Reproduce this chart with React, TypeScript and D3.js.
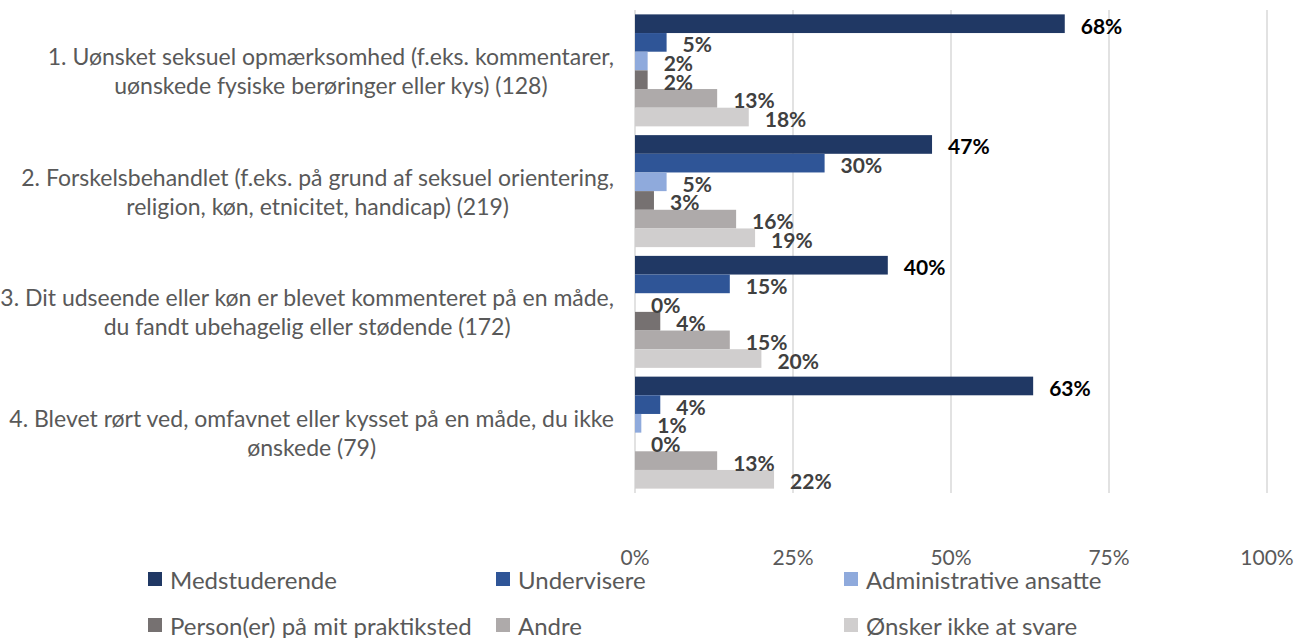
import React, { useEffect, useRef } from 'react';
import * as d3 from 'd3';

// Category labels, each already broken into the two lines shown on the chart
const categories = ['q1', 'q2', 'q3', 'q4'];
const categoryLines = [
    ['1. Uønsket seksuel opmærksomhed (f.eks. kommentarer,', 'uønskede fysiske berøringer eller kys) (128)'],
    ['2. Forskelsbehandlet (f.eks. på grund af seksuel orientering,', 'religion, køn, etnicitet, handicap) (219)'],
    ['3. Dit udseende eller køn er blevet kommenteret på en måde,', 'du fandt ubehagelig eller stødende (172)'],
    ['4. Blevet rørt ved, omfavnet eller kysset på en måde, du ikke', 'ønskede (79)'],
];

const seriesNames = [
    'Medstuderende',
    'Undervisere',
    'Administrative ansatte',
    'Person(er) på mit praktiksted',
    'Andre',
    'Ønsker ikke at svare',
];
const seriesColors = ['#203864', '#2f5597', '#8faadc', '#767171', '#aeaaaa', '#d0cece'];

// values in percent, one array per series (same order as categories)
const medstuderende = [68, 47, 40, 63];
const undervisere = [5, 30, 15, 4];
const administrative = [2, 5, 0, 1];
const praktiksted = [2, 3, 4, 0];
const andre = [13, 16, 15, 13];
const oenskerIkke = [18, 19, 20, 22];
const seriesValues = [medstuderende, undervisere, administrative, praktiksted, andre, oenskerIkke];

const xTicks = [0, 25, 50, 75, 100];

const FONT = 'Lato, "Open Sans", sans-serif';

const App = () => {
    const svgRef = useRef(null);

    useEffect(() => {
        const width = 1295;
        const height = 638;
        const svg = d3.select(svgRef.current);
        svg.selectAll('*').remove();

        const plotLeft = 635;
        const plotRight = 1267;
        const plotTop = 10;
        const plotBottom = 493;

        const x = d3.scaleLinear().domain([0, 100]).range([plotLeft, plotRight]);
        const y = d3.scaleBand().domain(categories).range([plotTop, plotBottom])
            .paddingInner(0.0725).paddingOuter(0.03625);
        const ySub = d3.scaleBand().domain(d3.range(seriesNames.length)).range([0, y.bandwidth()]);

        // gridlines
        svg.append('g')
            .selectAll('line')
            .data(xTicks)
            .join('line')
            .attr('x1', d => x(d))
            .attr('x2', d => x(d))
            .attr('y1', plotTop)
            .attr('y2', plotBottom)
            .attr('stroke', '#d9d9d9')
            .attr('stroke-width', 1.5);

        // tick labels
        svg.append('g')
            .selectAll('text')
            .data(xTicks)
            .join('text')
            .attr('x', d => x(d))
            .attr('y', 556)
            .attr('text-anchor', 'middle')
            .attr('dominant-baseline', 'central')
            .style('font-family', FONT)
            .style('font-size', '21px')
            .style('fill', '#595959')
            .text(d => `${d}%`);

        // bars + labels
        const groups = svg.append('g')
            .selectAll('g')
            .data(categories)
            .join('g')
            .attr('transform', d => `translate(0,${y(d)})`);

        groups.each(function (cat, ci) {
            const g = d3.select(this);
            const rows = seriesValues.map((vals, si) => ({ si, v: vals[ci] }));
            g.selectAll('rect')
                .data(rows)
                .join('rect')
                .attr('x', x(0))
                .attr('y', d => ySub(d.si))
                .attr('width', d => x(d.v) - x(0))
                .attr('height', ySub.bandwidth())
                .attr('fill', d => seriesColors[d.si]);

            g.selectAll('text')
                .data(rows)
                .join('text')
                .attr('x', d => x(d.v) + 16)
                .attr('y', d => ySub(d.si) + ySub.bandwidth() / 2 + 1.5)
                .attr('dominant-baseline', 'central')
                .style('font-family', FONT)
                .style('font-size', '21px')
                .style('font-weight', 'bold')
                .style('fill', d => (d.si === 0 ? '#000000' : '#404040'))
                .text(d => `${d.v}%`);
        });

        // category labels: lines centred inside a block that is right-aligned
        const labelRight = 614;
        const lineGap = 29;
        categories.forEach((cat, ci) => {
            const lines = categoryLines[ci];
            const cy = y(cat) + y.bandwidth() / 2;
            const texts = svg.append('g')
                .selectAll('text')
                .data(lines)
                .join('text')
                .attr('y', (d, i) => cy + (i - (lines.length - 1) / 2) * lineGap)
                .attr('text-anchor', 'middle')
                .attr('dominant-baseline', 'central')
                .style('font-family', FONT)
                .style('font-size', '23px')
                .style('fill', '#595959')
                .text(d => d);
            let maxW = 0;
            texts.each(function () {
                maxW = Math.max(maxW, this.getComputedTextLength());
            });
            texts.attr('x', labelRight - maxW / 2);
        });

        // legend
        const legendCols = [148, 496, 844];
        const legendRows = [579, 625];
        const legend = svg.append('g')
            .selectAll('g')
            .data(seriesNames)
            .join('g')
            .attr('transform', (d, i) => `translate(${legendCols[i % 3]},${legendRows[Math.floor(i / 3)]})`);

        legend.append('rect')
            .attr('x', 0)
            .attr('y', -7)
            .attr('width', 14)
            .attr('height', 14)
            .attr('fill', (d, i) => seriesColors[i]);

        legend.append('text')
            .attr('x', 22)
            .attr('y', 0)
            .attr('dominant-baseline', 'central')
            .style('font-family', FONT)
            .style('font-size', '24px')
            .style('fill', '#595959')
            .text(d => d);

        svg.attr('width', width).attr('height', height);
    }, []);

    return (
        <svg
            ref={svgRef}
            width={1295}
            height={638}
            style={{ position: 'absolute', left: 0, top: 0, background: '#ffffff' }}
        />
    );
};

export default App;
